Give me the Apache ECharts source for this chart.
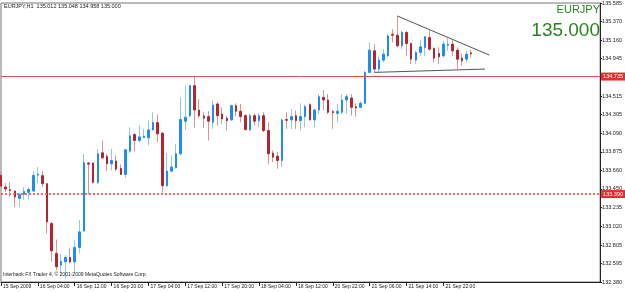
<!DOCTYPE html>
<html>
<head>
<meta charset="utf-8">
<script src="https://cdn.jsdelivr.net/npm/echarts@6/dist/echarts.min.js"></script>
<style>
  html, body { margin: 0; padding: 0; background: #fff; }
  #chart { width: 625px; height: 292px; }
</style>
</head>
<body>
<div id="chart"></div>
<script>
// EURJPY H1 bars
const opens = [133.605,133.471,133.440,133.425,133.341,133.387,133.410,133.425,133.608,133.601,
  133.509,133.051,132.708,132.574,132.612,132.662,132.612,132.777,132.967,133.746,
  133.746,133.524,133.864,133.822,133.738,133.769,133.685,133.616,133.883,134.074,
  134.005,134.040,134.036,134.127,134.211,134.089,133.486,133.654,133.692,133.853,
  134.227,134.291,134.635,134.356,134.288,134.280,134.215,134.425,134.310,134.261,
  134.242,134.406,134.341,134.291,134.127,134.291,134.234,134.291,134.120,133.860,
  133.826,133.776,134.246,134.242,134.291,134.234,134.280,134.417,134.242,134.356,
  134.501,134.471,134.337,134.318,134.330,134.471,134.494,134.394,134.387,134.433,
  134.788,135.036,134.826,134.929,134.978,135.226,135.215,135.093,135.246,135.120,
  134.929,135.017,135.074,135.188,135.062,135.005,134.978,135.100,135.112,135.043,
  134.952,134.940,135.012];
const highs = [133.654,133.517,133.528,133.433,133.395,133.471,133.471,133.654,133.700,133.654,
  133.517,133.070,132.868,132.708,132.689,132.765,132.860,133.089,133.853,133.757,
  133.757,133.906,134.005,133.853,133.910,133.834,133.730,133.910,134.158,134.089,
  134.177,134.139,134.234,134.330,134.303,134.101,133.860,133.834,133.967,134.501,
  134.635,134.642,134.749,134.482,134.330,134.341,134.463,134.444,134.387,134.291,
  134.417,134.433,134.425,134.310,134.310,134.318,134.318,134.330,134.215,133.891,
  133.872,134.253,134.330,134.368,134.349,134.433,134.417,134.433,134.368,134.539,
  134.585,134.539,134.356,134.425,134.539,134.539,134.539,134.433,134.456,134.807,
  135.131,135.112,134.978,135.055,135.226,135.284,135.436,135.265,135.265,135.131,
  135.036,135.158,135.207,135.272,135.074,135.074,135.150,135.188,135.158,135.074,
  135.005,135.036,135.048];
const lows = [133.471,133.414,133.357,133.242,133.242,133.326,133.326,133.414,133.517,133.471,
  132.937,132.612,132.517,132.479,132.422,132.593,132.479,132.708,132.956,133.387,
  133.509,133.502,133.795,133.654,133.662,133.654,133.608,133.578,133.860,133.883,
  133.982,134.036,133.948,134.120,133.986,133.395,133.471,133.643,133.681,133.834,
  134.127,134.272,134.150,134.265,134.150,134.005,134.139,134.177,134.196,134.120,
  134.234,134.280,134.215,134.120,134.112,134.177,134.158,134.101,133.731,133.757,
  133.681,133.700,134.139,134.139,134.139,134.120,134.158,134.234,134.158,134.310,
  134.349,134.310,134.139,134.215,134.310,134.310,134.291,134.280,134.379,134.425,
  134.776,134.788,134.788,134.902,134.959,135.131,135.074,135.055,134.978,134.883,
  134.883,134.978,134.978,135.036,134.902,134.883,134.959,135.036,134.978,134.826,
  134.864,134.902,134.958];
const closes = [133.482,133.448,133.429,133.357,133.387,133.421,133.444,133.605,133.620,133.509,
  133.070,132.738,132.555,132.616,132.662,132.612,132.777,132.956,133.750,133.734,
  133.524,133.853,133.807,133.738,133.776,133.677,133.616,133.898,134.059,134.005,
  134.047,134.055,134.127,134.211,134.082,133.486,133.654,133.700,133.853,134.246,
  134.272,134.635,134.356,134.291,134.261,134.227,134.413,134.291,134.253,134.234,
  134.406,134.341,134.280,134.131,134.291,134.227,134.291,134.120,133.853,133.814,
  133.776,134.242,134.238,134.280,134.234,134.280,134.394,134.242,134.356,134.509,
  134.471,134.330,134.326,134.341,134.471,134.509,134.387,134.379,134.433,134.787,
  135.043,134.826,134.929,134.997,135.207,135.215,135.093,135.246,135.120,134.940,
  135.017,135.081,135.196,135.055,134.952,134.967,135.112,135.112,135.036,134.940,
  134.921,134.997,135.000];

const xTickLabels = ['15 Sep 2009','16 Sep 04:00','16 Sep 12:00','16 Sep 20:00','17 Sep 04:00',
  '17 Sep 12:00','17 Sep 20:00','18 Sep 04:00','18 Sep 12:00','20 Sep 22:00','21 Sep 06:00',
  '21 Sep 14:00','21 Sep 22:00'];
const yTickLabels = ['132.380','132.595','132.805','133.020','133.235','133.450','133.660','133.875',
  '134.090','134.305','134.515','134.730','134.945','135.160','135.370','135.585'];

// horizontal lines and the triangle drawn on the chart
const levelHigh = 134.735;
const levelLow = 133.390;
const bidPrice = 135.000;
const trendTop = [[86, 135.436], [106, 134.986]];
const trendBottom = [[81, 134.788], [105, 134.826]];

// hourly slots: Fri 15 Sep 20:00 .. Fri 18 Sep 19:00, then from Sun 20 Sep 22:00
const times = [];
const MON = ['Jan','Feb','Mar','Apr','May','Jun','Jul','Aug','Sep','Oct','Nov','Dec'];
function fmt(t) {
  const d = new Date(t);
  const hh = String(d.getUTCHours()).padStart(2, '0');
  return d.getUTCDate() + ' ' + MON[d.getUTCMonth()] + ' ' + hh + ':00';
}
for (let i = 0; i < 72; i++) times.push(fmt(Date.UTC(2009, 8, 15, 20) + i * 3600e3));
for (let i = 0; i < 59; i++) times.push(fmt(Date.UTC(2009, 8, 20, 22) + i * 3600e3));

const wickData = opens.map((o, i) => [o, closes[i], lows[i], highs[i]]);
const bodyData = opens.map((o, i) => [o, closes[i], Math.min(o, closes[i]), Math.max(o, closes[i])]);

const FONT = 'Liberation Sans';
const chart = echarts.init(document.getElementById('chart'), null, { renderer: 'canvas' });

const option = {
  animation: false,
  backgroundColor: '#fff',
  grid: {
    left: 1, right: 22, top: 2, bottom: 10,
    show: true, borderColor: '#777', borderWidth: 1
  },
  xAxis: {
    type: 'category',
    data: times,
    boundaryGap: false,
    axisLine: { lineStyle: { color: '#222', width: 1 } },
    axisTick: {
      show: true, length: 4, alignWithLabel: true,
      interval: (idx) => idx % 8 === 0 && idx <= 96,
      lineStyle: { color: '#222' }
    },
    axisLabel: {
      interval: (idx) => idx % 8 === 0 && idx <= 96,
      formatter: (v, idx) => xTickLabels[idx / 8] || '',
      align: 'left',
      padding: [0, 0, 0, 2],
      margin: 2,
      fontSize: 5,
      fontFamily: FONT,
      color: '#222'
    },
    splitLine: { show: false }
  },
  yAxis: {
    type: 'value',
    position: 'right',
    min: 132.38,
    max: 135.585,
    scale: true,
    axisLine: { show: true, lineStyle: { color: '#222' } },
    axisTick: {
      show: true, length: 2,
      customValues: yTickLabels.map(Number),
      lineStyle: { color: '#222' }
    },
    axisLabel: {
      customValues: yTickLabels.map(Number),
      formatter: (v) => {
        const k = yTickLabels.findIndex(s => Math.abs(Number(s) - v) < 1e-6);
        return k >= 0 ? yTickLabels[k] : '';
      },
      margin: 2,
      fontSize: 5.5,
      fontFamily: FONT,
      color: '#222'
    },
    splitLine: { show: false }
  },
  graphic: [
    { type: 'text', left: 4, top: 3, z: 10,
      style: { text: 'EURJPY,H1  135.012 135.048 134.958 135.000', fill: '#222', font: '5.5px ' + FONT } },
    { type: 'text', right: 25, top: 4, z: 10,
      style: { text: 'EURJPY', fill: '#2a8420', font: '11px ' + FONT } },
    { type: 'text', right: 25, top: 21, z: 10,
      style: { text: '135.000', fill: '#2a8420', font: '19px ' + FONT } },
    { type: 'text', left: 3, top: 272, z: 10,
      style: { text: 'Interbank FX Trader 4, \u00a9 2001-2009 MetaQuotes Software Corp.', fill: '#222', font: '5px ' + FONT } }
  ],
  series: [
    {
      name: 'wick',
      type: 'candlestick',
      data: wickData,
      barWidth: 1,
      itemStyle: {
        color: '#8fc6f2', color0: '#d99494',
        borderColor: '#8fc6f2', borderColor0: '#d99494', borderWidth: 1
      },
      markLine: {
        symbol: 'none',
        silent: true,
        data: [
          {
            yAxis: levelHigh,
            lineStyle: { color: '#e44d4d', width: 1, type: 'solid' },
            label: { position: 'end', formatter: levelHigh.toFixed(3), distance: 1,
              color: '#fff', backgroundColor: '#e0302e', padding: [1, 2], fontSize: 5.5, fontFamily: FONT }
          },
          {
            yAxis: levelLow,
            lineStyle: { color: '#ee6a6a', width: 2, type: 'dotted' },
            label: { position: 'end', formatter: levelLow.toFixed(3), distance: 1,
              color: '#fff', backgroundColor: '#e0302e', padding: [1, 2], fontSize: 5.5, fontFamily: FONT }
          },
          {
            yAxis: bidPrice,
            lineStyle: { opacity: 0 },
            label: { position: 'end', formatter: bidPrice.toFixed(3), distance: 1,
              color: '#fff', backgroundColor: '#111', padding: [1, 2], fontSize: 5.5, fontFamily: FONT }
          },
          [
            { coord: [times[trendTop[0][0]], trendTop[0][1]], lineStyle: { color: '#555', width: 1, type: 'solid' }, label: { show: false } },
            { coord: [times[trendTop[1][0]], trendTop[1][1]] }
          ],
          [
            { coord: [times[trendBottom[0][0]], trendBottom[0][1]], lineStyle: { color: '#555', width: 1, type: 'solid' }, label: { show: false } },
            { coord: [times[trendBottom[1][0]], trendBottom[1][1]] }
          ]
        ]
      }
    },
    {
      name: 'body',
      type: 'candlestick',
      data: bodyData,
      barWidth: 2,
      itemStyle: {
        color: '#1e8cf5', color0: '#b42530',
        borderColor: '#1e8cf5', borderColor0: '#b42530', borderWidth: 1
      }
    }
  ]
};

chart.setOption(option);
</script>
</body>
</html>
